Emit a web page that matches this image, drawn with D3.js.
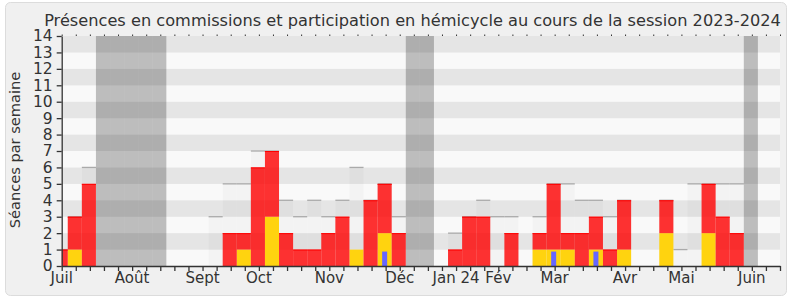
<!DOCTYPE html>
<html lang="fr">
<head>
    <meta charset="UTF-8">
    <script src="https://d3js.org/d3.v7.min.js"></script>
    <title>Présences en commissions et participation en hémicycle</title>
    <style>
        body { margin: 0; background: #fff; }
        text { font-family: "DejaVu Sans", Verdana, sans-serif; fill: #333; }
    </style>
</head>
<body>
    <div id="chart"></div>

    <script>
        // one entry per week, index 0 = week straddling the start of July 2023
        const hemicycle = [0,1,0,0,0,0,0,0,0,0, 0,0,0,1,0,3,0,0,0,0, 0,1,0,2,0,0,0,0,0,0, 0,0,0,0,1,1,1,0,1,0, 1,0,0,2,0,0,2,0,0,0, 0,0];
        const commission = [1,2,5,0,0,0,0,0,0,0, 0,0,2,1,6,4,2,1,1,2, 3,0,4,3,2,0,0,0,1,3, 3,0,2,0,1,4,1,2,2,1, 3,0,0,2,0,0,3,3,2,0, 0,0];
        const questions = [0,0,0,0,0,0,0,0,0,0, 0,0,0,0,0,0,0,0,0,0, 0,0,0,1,0,0,0,0,0,0, 0,0,0,0,0,1,0,0,1,0, 0,0,0,0,0,0,0,0,0,0, 0,0];
        const mediane = [1,3,6,0,0,0,0,0,0,0, 0,3,5,5,7,7,4,3,4,3, 4,6,4,5,3,0,0,0,2,3, 4,3,3,0,3,5,5,4,4,3, 4,0,0,4,1,5,5,5,5,0, 0,0];
        const vacances = [3,4,5,6,7,25,26,49];

        const moisLabels = ["Juil","Août","Sept","Oct","Nov","Déc","Jan 24","Fév","Mar","Avr","Mai","Juin"];
        const moisSemaine = [0,5,10,14,19,24,28,31,35,40,44,49];

        const nbSemaines = 51;

        const width = 790;
        const height = 300;
        const mLeft = 61.7, mRight = 780, mTop = 36, mBottom = 266;

        const svg = d3.select("#chart").append("svg")
            .attr("width", width)
            .attr("height", height);

        svg.append("rect")
            .attr("x", 5.5).attr("y", 2.5)
            .attr("width", 781).attr("height", 293)
            .attr("rx", 5)
            .attr("fill", "#f0f0f0")
            .attr("stroke", "#dcdcdc");

        const x = d3.scaleLinear().domain([0, nbSemaines]).range([mLeft, mRight]);
        const y = d3.scaleLinear().domain([0, 14]).range([mBottom, mTop]);

        // a bar j covers [j-0.57, j+0.43] in week units, clipped to the domain
        const x0 = j => x(Math.max(0, j - 0.57));
        const x1 = j => x(Math.min(nbSemaines, j + 0.43));

        // horizontal stripes
        svg.append("g")
            .selectAll("rect")
            .data(d3.range(14))
            .join("rect")
            .attr("x", mLeft)
            .attr("width", mRight - mLeft)
            .attr("y", d => y(d + 1))
            .attr("height", d => y(d) - y(d + 1))
            .attr("fill", d => d % 2 ? "#e5e5e5" : "#f9f9f9");

        const semaines = d3.range(mediane.length);

        // median weeks (light fill + grey top line)
        const med = svg.append("g");
        med.selectAll("rect")
            .data(semaines.filter(j => mediane[j] > 0))
            .join("rect")
            .attr("x", j => x0(j))
            .attr("width", j => x1(j) - x0(j))
            .attr("y", j => y(mediane[j]))
            .attr("height", j => y(0) - y(mediane[j]))
            .attr("fill", "#000")
            .attr("fill-opacity", 0.025);
        med.selectAll("line")
            .data(semaines.filter(j => mediane[j] > 0))
            .join("line")
            .attr("x1", j => x0(j))
            .attr("x2", j => x1(j))
            .attr("y1", j => y(mediane[j]))
            .attr("y2", j => y(mediane[j]))
            .attr("stroke", "#aaa")
            .attr("stroke-width", 1.3);

        // parliamentary holidays
        svg.append("g")
            .selectAll("rect")
            .data(vacances)
            .join("rect")
            .attr("x", j => x0(j))
            .attr("width", j => x1(j) - x0(j))
            .attr("y", mTop)
            .attr("height", mBottom - mTop)
            .attr("fill", "#000")
            .attr("fill-opacity", 0.24);

        // hemicycle (yellow, bottom)
        svg.append("g")
            .selectAll("rect")
            .data(semaines.filter(j => hemicycle[j] > 0))
            .join("rect")
            .attr("x", j => x0(j))
            .attr("width", j => x1(j) - x0(j))
            .attr("y", j => y(hemicycle[j]))
            .attr("height", j => y(0) - y(hemicycle[j]))
            .attr("fill", "#ffd30f");

        // commission (red, stacked above)
        const com = svg.append("g");
        const comWeeks = semaines.filter(j => commission[j] > 0);
        com.selectAll("rect")
            .data(comWeeks)
            .join("rect")
            .attr("x", j => x0(j))
            .attr("width", j => x1(j) - x0(j))
            .attr("y", j => y(hemicycle[j] + commission[j]))
            .attr("height", j => y(hemicycle[j]) - y(hemicycle[j] + commission[j]))
            .attr("fill", "#ff0000")
            .attr("fill-opacity", 0.8);
        com.selectAll("line")
            .data(comWeeks)
            .join("line")
            .attr("x1", j => x0(j))
            .attr("x2", j => x1(j))
            .attr("y1", j => y(hemicycle[j] + commission[j]) + 0.5)
            .attr("y2", j => y(hemicycle[j] + commission[j]) + 0.5)
            .attr("stroke", "#ff0000")
            .attr("stroke-width", 1);

        // questions (narrow blue)
        svg.append("g")
            .selectAll("rect")
            .data(semaines.filter(j => questions[j] > 0))
            .join("rect")
            .attr("x", j => (x0(j) + x1(j)) / 2 - 2.5)
            .attr("width", 5)
            .attr("y", j => y(questions[j]) + 2)
            .attr("height", j => y(0) - y(questions[j]) - 2)
            .attr("fill", "#6666ff");

        // axes
        const weekTicks = d3.range(nbSemaines + 1);

        svg.append("g")
            .attr("transform", `translate(0,${mBottom})`)
            .call(d3.axisBottom(x).tickValues(weekTicks).tickSize(5).tickSizeOuter(0).tickFormat(""))
            .call(g => g.selectAll("line, path").attr("stroke", "#333").attr("stroke-width", 1.3));

        svg.append("g")
            .attr("transform", `translate(0,${mTop})`)
            .call(d3.axisTop(x).tickValues(weekTicks).tickSize(1.5).tickSizeOuter(0).tickFormat(""))
            .call(g => g.select(".domain").remove())
            .call(g => g.selectAll("line").attr("stroke", "#333"));

        svg.append("g")
            .attr("transform", `translate(${mLeft},0)`)
            .call(d3.axisLeft(y).tickValues(d3.range(15)).tickSize(5).tickSizeOuter(0).tickPadding(4))
            .call(g => g.selectAll("line, path").attr("stroke", "#333").attr("stroke-width", 1.3))
            .call(g => g.selectAll("text").attr("font-size", 15.5).attr("font-family", null).attr("fill", "#333"));

        svg.append("g")
            .selectAll("text")
            .data(moisLabels)
            .join("text")
            .attr("x", (d, i) => x(moisSemaine[i]))
            .attr("y", 283)
            .attr("text-anchor", "middle")
            .attr("font-size", 15)
            .text(d => d);

        svg.append("text")
            .attr("transform", "translate(20,150) rotate(-90)")
            .attr("text-anchor", "middle")
            .attr("font-size", 14.6)
            .text("Séances par semaine");

        svg.append("text")
            .attr("x", 412.5)
            .attr("y", 26)
            .attr("text-anchor", "middle")
            .attr("font-size", 16.2)
            .text("Présences en commissions et participation en hémicycle au cours de la session 2023-2024");
    </script>
</body>
</html>
